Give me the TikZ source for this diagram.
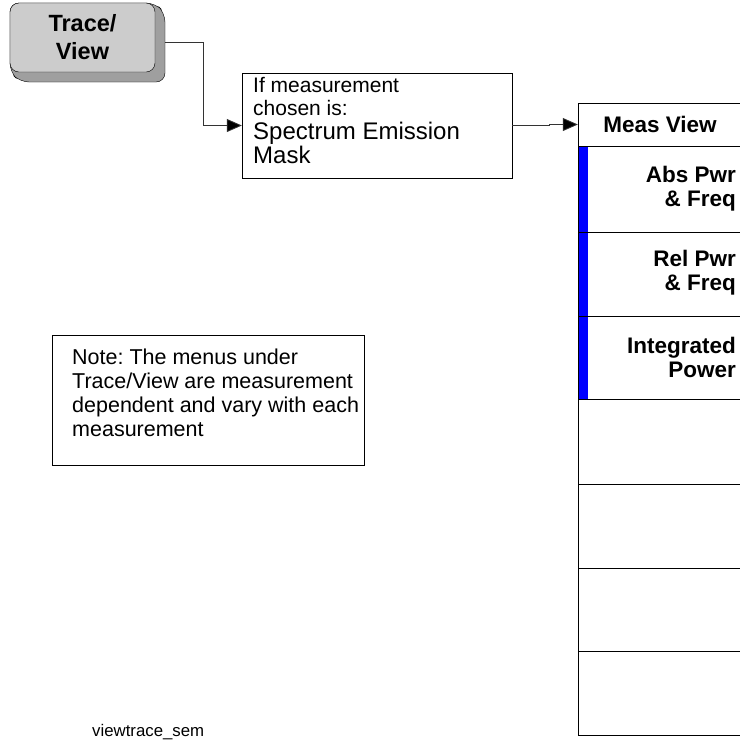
\documentclass[tikz,border=0pt]{standalone}
\usepackage{fontspec}
\setmainfont{Liberation Sans}
\usetikzlibrary{arrows.meta}
\frenchspacing
\begin{document}
\begin{tikzpicture}[x=1pt,y=-1pt,
        conn/.style={draw=black!80,line width=0.8pt,-{Triangle[length=15pt,width=13pt,fill=black]}},
        keyfont/.style={font=\fontsize{22.5}{24}\selectfont\bfseries,inner sep=0pt},
        txt/.style={inner sep=0pt,anchor=base west}]
        \useasboundingbox (0,0) rectangle (740,740);
        % hard key
        \filldraw[fill=gray!75,draw=black,rounded corners=9pt]
            (10,3)--(155,3)--(165,13)--(165,82)--(20,82)--(10,72)--cycle;
        \node[draw,fill=gray!40,rounded corners=9pt,minimum width=145,minimum height=69,
            align=center,font=\fontsize{23.5}{28}\selectfont\bfseries] (trace) at (82.5,37.5) {Trace/\\View};
        % condition box
        \node[draw,minimum width=270,minimum height=105,inner sep=0pt] (cond) at (377,125.5) {};
        \node[txt,font=\fontsize{21}{23}\selectfont] (c1) at (253,92) {If measurement};
        \node[txt,font=\fontsize{21}{23}\selectfont] (c2) at (253,115) {chosen is:};
        \node[txt,font=\fontsize{24}{24}\selectfont] (c3) at (253,139) {Spectrum Emission};
        \node[txt,font=\fontsize{24}{24}\selectfont] (c4) at (253,163) {Mask};
        % menu
        \node[minimum width=162,minimum height=43,inner sep=0pt] (meas) at (659,124.5) {};
        \node[keyfont] (mt) at (660,124.5) {Meas View};
        \fill[blue] (578,147) rectangle (588,399);
        \draw[line width=0.9pt] (741,103) -- (578,103) -- (578,735) -- (741,735);
        \foreach \y in {146,232,316,399,484,568,651}
            \draw[line width=0.9pt] (578,\y) -- (741,\y);
        \node[keyfont,align=right,anchor=east] (k1) at (736,189) {Abs Pwr\\\& Freq};
        \node[keyfont,align=right,anchor=east] (k2) at (736,273) {Rel Pwr\\\& Freq};
        \node[keyfont,align=right,anchor=east] (k3) at (736,357) {Integrated\\Power};
        % connectors
        \draw[conn] ([shift={(10,4.5)}]trace.east) -- ++(38,0) |- (cond.west);
        \draw[conn] (cond.east) -- ++(37,0) |- (meas.west);
        % note
        \node[draw,minimum width=312,minimum height=130,anchor=north west] (note) at (52,335) {};
        \node[inner sep=0pt,anchor=west,align=left,font=\fontsize{21.5}{24}\selectfont] (nt) at (72,392.5)
            {Note: The menus under\\Trace/View are measurement\\dependent and vary with each\\measurement};
        \node[txt,font=\fontsize{16.8}{18}\selectfont] (lbl) at (92,736) {viewtrace\_sem};
\end{tikzpicture}
\end{document}
